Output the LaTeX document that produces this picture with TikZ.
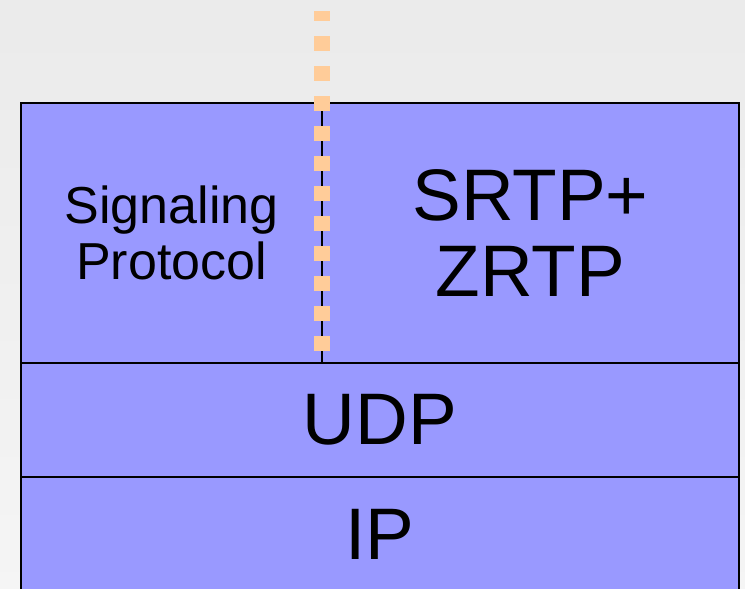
\documentclass[tikz,border=0pt]{standalone}
\usepackage{fontspec}
\setmainfont{Liberation Sans}
\definecolor{layerblue}{RGB}{153,153,255}
\definecolor{linkorange}{RGB}{255,204,153}

\tikzset{
  layer/.style={draw=black,line width=2pt,fill=layerblue,inner sep=0pt,outer sep=0pt,align=center},
  bigtext/.style={font=\fontsize{73}{76}\selectfont},
  smalltext/.style={font=\fontsize{52}{56}\selectfont},
  sigpath/.style={linkorange,line width=16pt,dash pattern=on 15pt off 15pt,dash phase=5pt},
}

\begin{document}
\begin{tikzpicture}[x=1pt,y=-1pt]
\useasboundingbox (0,0) rectangle (745,589);
\shade[top color=black!8,bottom color=black!4] (0,0) rectangle (745,589);
\begin{scope}
\clip (0,0) rectangle (745,589);
% protocol stack
\node[layer,smalltext,minimum width=301pt,minimum height=260pt] (sig) at (171.5,233) {Signaling\\Protocol};
\node[layer,bigtext,minimum width=417pt,minimum height=260pt] (srtp) at (530.5,233) {SRTP+\\ZRTP};
\node[layer,bigtext,minimum width=718pt,minimum height=114pt] (udp) at (380,420) {UDP};
\node[layer,bigtext,minimum width=718pt,minimum height=114pt] (ip) at (380,534) {IP};
% signaling path
\coordinate (pathtop) at (322,11);
\coordinate (pathend) at (322,354);
\draw[sigpath] (pathtop) -- (pathend);
\end{scope}
\end{tikzpicture}
\end{document}
